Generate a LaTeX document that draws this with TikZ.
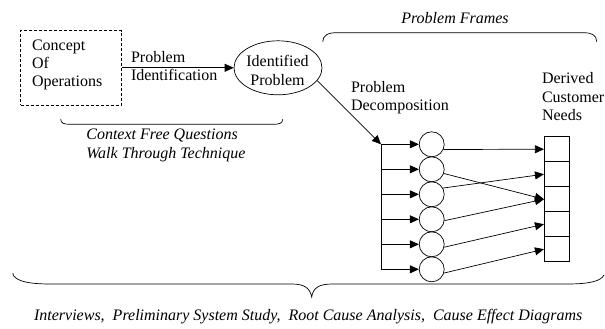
\documentclass[tikz,border=0pt]{standalone}
\usepackage{fontspec}
\setmainfont{Liberation Serif}
\usetikzlibrary{arrows.meta,shapes.geometric}
\begin{document}
\begin{tikzpicture}[x=1pt,y=-1pt,line width=0.7pt,
  txt/.style={font=\fontsize{16}{18.4}\selectfont, inner sep=0pt, align=left},
  itxt/.style={font=\fontsize{16}{18.4}\selectfont\itshape, inner sep=0pt, align=left},
  arr/.style={-{Triangle[length=9pt,width=8pt]}},
  circ/.style={circle, draw, minimum size=25pt, inner sep=0pt},
  cell/.style={rectangle, draw, minimum size=25pt, inner sep=0pt},
  brace/.style={line width=0.7pt}]
\useasboundingbox (0,0) rectangle (605,329);

% Concept of operations box
\node[draw, dashed, dash pattern=on 3pt off 2pt, minimum width=101pt, minimum height=74.3pt, inner sep=0pt] (concept) at (71.2,67.8) {};
\node[txt, anchor=west] (conceptText) at (31.7,65) {Concept\\Of\\Operations};

% Identified problem ellipse
\node[ellipse, draw, minimum width=88pt, minimum height=54pt, inner sep=0pt] (idp) at (278,67.8) {};
\node[txt, align=center] (idpText) at (277.5,70.5) {Identified\\Problem};

\draw[arr] (concept.east) -- (idp.west);
\node[txt, anchor=west] (identLabel) at (130.7,66.3) {Problem\\Identification};

% Left brace
\draw[brace] (60.7,119.3) .. controls (61,123.5) and (64,124.3) .. (71,124.3) -- (272,124.3) .. controls (279.5,124.3) and (282.5,123.5) .. (282.7,119.3);
\node[itxt, anchor=west] (ctxText) at (86,145.3) {Context Free Questions\\Walk Through Technique};

% Top brace
\draw[brace] (322.7,41.7) .. controls (323,35) and (328,32.7) .. (337,32.7) -- (583,32.7) .. controls (592,32.7) and (596.5,35) .. (596.7,41.7);
\node[itxt, anchor=center] (framesText) at (455,18.5) {Problem Frames};

% Decomposition
\coordinate (split) at (381,144.3);
\coordinate (vbot) at (381,269.3);
\draw[arr] (idp.-18) -- (split);
\node[txt, anchor=west] (decompText) at (350.7,97.5) {Problem\\Decomposition};

\foreach \i in {1,...,6} {
  \node[circ] (c\i) at (431.7,{144.3+25*(\i-1)}) {};
}
\draw (split) -- (vbot);
\foreach \i in {1,...,6} {
  \draw[arr] (split |- c\i) -- (c\i.west);
}

% Customer needs cells
\foreach \i in {1,...,5} {
  \node[cell] (r\i) at (556.8,{149.2+25*(\i-1)}) {};
}
\node[txt, anchor=west] (needsText) at (541.7,96.7) {Derived\\Customer\\Needs};

\draw[arr] (c1.-24) -- (r1.west);
\draw[arr] (c2.-19) -- (r3.west);
\draw[arr] (c3.29) -- (r2.west);
\draw[arr] (c4.-6) -- (r3.west);
\draw[arr] (c5.-13) -- (r4.west);
\draw[arr] (c6.-17) -- (r5.west);

% Bottom brace
\draw[brace] (12.7,273.3) .. controls (14,280) and (25,284) .. (50,284) -- (292,284) .. controls (304,284) and (310,288) .. (311.7,297)
  .. controls (313,288) and (319,284) .. (332,284) -- (567,284) .. controls (590,284) and (601,281) .. (604,275);
\node[itxt, anchor=center] (bottomText) at (308.2,316.5) {Interviews,\ \ Preliminary System Study,\ \ Root Cause Analysis,\ \ Cause Effect Diagrams};
\end{tikzpicture}
\end{document}
